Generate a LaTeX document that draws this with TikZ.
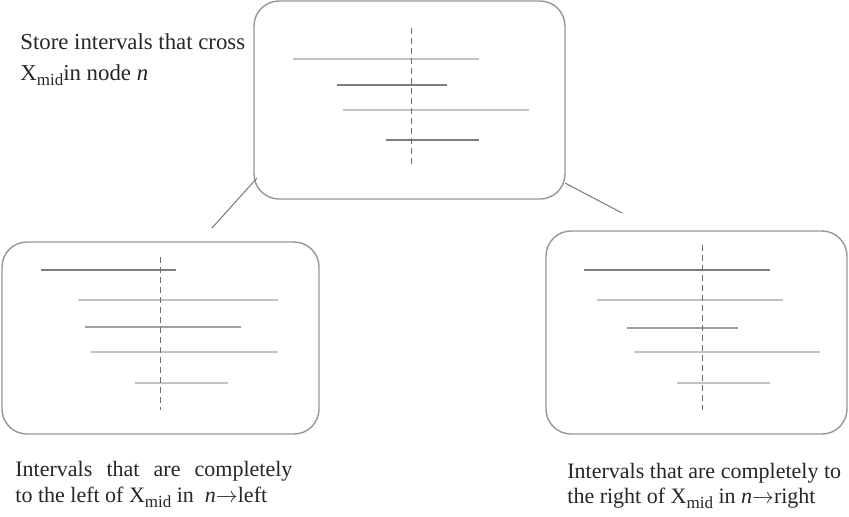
\documentclass[tikz,border=0pt]{standalone}
\usepackage{fontspec}
\setmainfont{Liberation Serif}
\usetikzlibrary{fit}
\definecolor{boxgray}{RGB}{150,150,150}
\definecolor{lightiv}{RGB}{195,195,195}
\definecolor{darkiv}{RGB}{125,125,125}
\definecolor{midiv}{RGB}{160,160,160}
\definecolor{dashgray}{RGB}{110,110,110}
\definecolor{linkgray}{RGB}{120,120,120}
\newcommand{\mysubm}{\raisebox{-2.6pt}{\fontsize{8.5}{9}\selectfont mid}}
\tikzset{
  box/.style={draw=boxgray, line width=0.7pt, rounded corners=12.5pt, inner sep=0pt},
  ivlight/.style={draw=lightiv, line width=1.2pt},
  ivdark/.style={draw=darkiv, line width=1pt},
  ivmid/.style={draw=midiv, line width=1.2pt},
  midline/.style={draw=dashgray, line width=0.5pt, dash pattern=on 3pt off 2pt},
  link/.style={draw=linkgray, line width=0.5pt},
  lbl/.style={inner sep=0pt, anchor=base west, font=\fontsize{11}{13}\selectfont, text=black!85}
}
\begin{document}
\begin{tikzpicture}[x=0.5pt, y=-0.5pt]
\useasboundingbox (0,0) rectangle (849,516);
% boxes
\node[box, fit={(254,1) (565,199)}] (top) {};
\node[box, fit={(2,242) (319,434)}] (left) {};
\node[box, fit={(546,231) (847,434)}] (right) {};
% connectors
\coordinate (tla) at (257,178);
\coordinate (tlb) at (212,228);
\coordinate (tra) at (565,183);
\coordinate (trb) at (622,213);
\draw[link] (tla) -- (tlb);
\draw[link] (tra) -- (trb);
% top box intervals
\coordinate (t1a) at (293,59); \coordinate (t1b) at (479,59);
\coordinate (t2a) at (337,85); \coordinate (t2b) at (447,85);
\coordinate (t3a) at (343,110); \coordinate (t3b) at (529,110);
\coordinate (t4a) at (386,140); \coordinate (t4b) at (479,140);
\coordinate (tma) at (411,28); \coordinate (tmb) at (411,167);
\draw[ivlight] (t1a) -- (t1b);
\draw[ivdark] (t2a) -- (t2b);
\draw[ivlight] (t3a) -- (t3b);
\draw[ivdark] (t4a) -- (t4b);
\draw[midline] (tma) -- (tmb);
% left box intervals
\coordinate (l1a) at (41,270); \coordinate (l1b) at (176,270);
\coordinate (l2a) at (78,300); \coordinate (l2b) at (278,300);
\coordinate (l3a) at (85,327); \coordinate (l3b) at (241,327);
\coordinate (l4a) at (91,352); \coordinate (l4b) at (278,352);
\coordinate (l5a) at (135,383); \coordinate (l5b) at (228,383);
\coordinate (lma) at (160,257); \coordinate (lmb) at (160,410);
\draw[ivdark] (l1a) -- (l1b);
\draw[ivlight] (l2a) -- (l2b);
\draw[ivmid] (l3a) -- (l3b);
\draw[ivlight] (l4a) -- (l4b);
\draw[ivlight] (l5a) -- (l5b);
\draw[midline] (lma) -- (lmb);
% right box intervals
\coordinate (r1a) at (584,270); \coordinate (r1b) at (770,270);
\coordinate (r2a) at (597,300); \coordinate (r2b) at (783,300);
\coordinate (r3a) at (627,328); \coordinate (r3b) at (738,328);
\coordinate (r4a) at (634,352); \coordinate (r4b) at (820,352);
\coordinate (r5a) at (677,383); \coordinate (r5b) at (770,383);
\coordinate (rma) at (702,245); \coordinate (rmb) at (702,410);
\draw[ivdark] (r1a) -- (r1b);
\draw[ivlight] (r2a) -- (r2b);
\draw[ivmid] (r3a) -- (r3b);
\draw[ivlight] (r4a) -- (r4b);
\draw[ivlight] (r5a) -- (r5b);
\draw[midline] (rma) -- (rmb);
% labels
\node[lbl, font=\fontsize{11.4}{13}\selectfont] (tx1) at (20,49) {Store intervals that cross};
\node[lbl, font=\fontsize{11.4}{13}\selectfont] (tx2) at (20,80) {X\mysubm in node \textit{n}};
\node[lbl] (lx1) at (15,476) {\makebox[138.5pt][s]{Intervals that are completely}};
\node[lbl] (lx2) at (15,502) {to the left of X\mysubm\ in\ \ \textit{n}$\rightarrow$left};
\node[lbl] (rx1) at (567,478) {Intervals that are completely to};
\node[lbl] (rx2) at (567,503) {the right of\ X\mysubm\ in \textit{n}$\rightarrow$right};
\end{tikzpicture}
\end{document}
